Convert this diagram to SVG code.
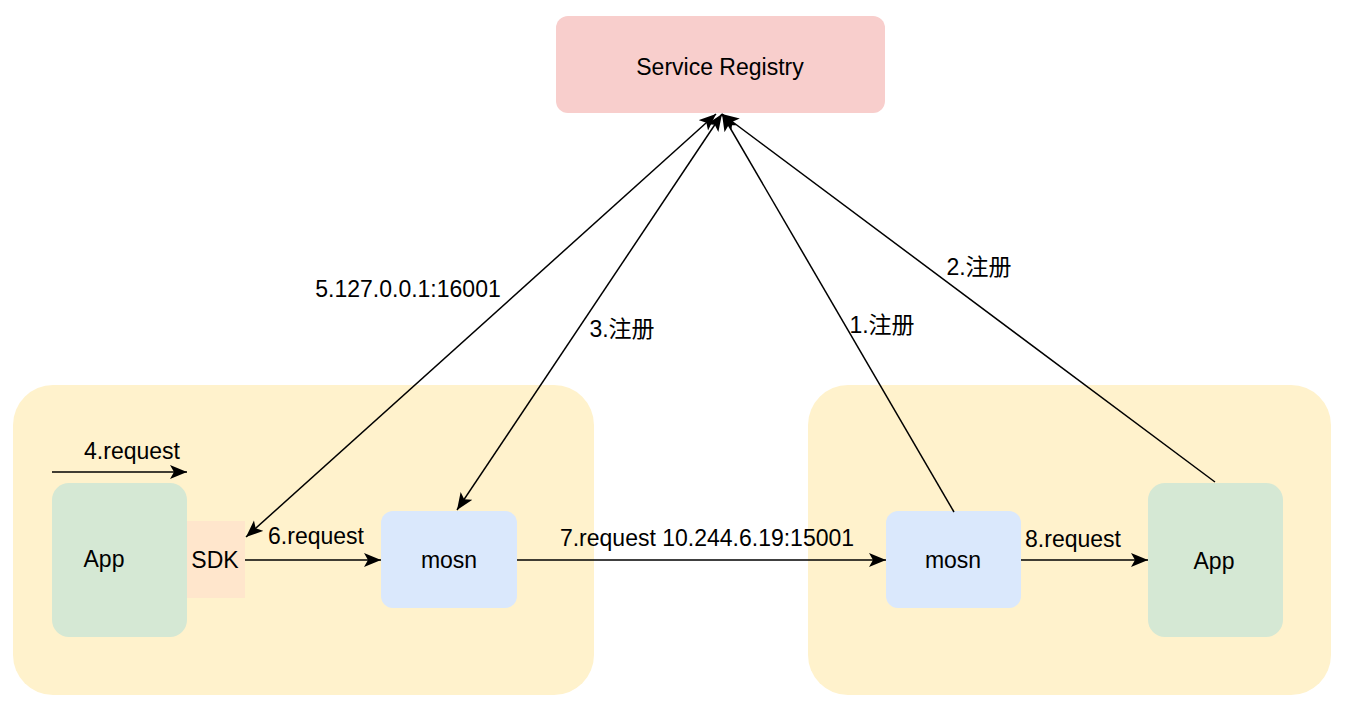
<svg xmlns="http://www.w3.org/2000/svg" width="1358" height="710" viewBox="0 0 1358 710">
<style>
text{font-family:"Liberation Sans",Arial,"Noto Sans CJK SC",sans-serif;font-size:23px;fill:#000;text-anchor:middle}
.cjk{font-family:"Liberation Sans",Arial,"Noto Sans CJK SC",sans-serif}
.ln{stroke:#000;stroke-width:1.5;fill:none}
</style>
<defs>
<marker id="ah" markerUnits="userSpaceOnUse" markerWidth="20" markerHeight="16" refX="17" refY="7" orient="auto-start-reverse" viewBox="0 0 20 16">
<path d="M0,0 L17,7 L0,14 L4,7 z" fill="#000"/>
</marker>
</defs>
<rect width="1358" height="710" fill="#fff"/>
<g id="host-left"><rect x="13" y="385" width="581" height="310" rx="40" fill="#fff2cc"/></g>
<g id="host-right"><rect x="808" y="385" width="523" height="310" rx="40" fill="#fff2cc"/></g>
<g id="registry"><rect x="556" y="16" width="329" height="97" rx="12" fill="#f8cecc"/><text x="720" y="75">Service Registry</text></g>
<g id="app-left"><rect x="52" y="483" width="135" height="154" rx="17" fill="#d5e8d4"/><text x="104" y="567">App</text></g>
<g id="sdk"><rect x="187" y="521" width="58" height="77" fill="#ffe6cc"/><text x="215" y="568">SDK</text></g>
<g id="mosn-left"><rect x="381" y="511" width="136" height="97" rx="12" fill="#dae8fc"/><text x="449" y="568">mosn</text></g>
<g id="mosn-right"><rect x="886" y="511" width="135" height="97" rx="12" fill="#dae8fc"/><text x="953" y="568">mosn</text></g>
<g id="app-right"><rect x="1148" y="483" width="135" height="154" rx="17" fill="#d5e8d4"/><text x="1214" y="569">App</text></g>
<g id="connectors">
<line class="ln" x1="52" y1="472" x2="187" y2="472" marker-end="url(#ah)"/>
<line class="ln" x1="245" y1="560" x2="381" y2="560" marker-end="url(#ah)"/>
<line class="ln" x1="517" y1="560" x2="886" y2="560" marker-end="url(#ah)"/>
<line class="ln" x1="1021" y1="560" x2="1148" y2="560" marker-end="url(#ah)"/>
<line class="ln" x1="246" y1="537" x2="716" y2="114" marker-start="url(#ah)" marker-end="url(#ah)"/>
<line class="ln" x1="457" y1="510" x2="722" y2="114" marker-start="url(#ah)" marker-end="url(#ah)"/>
<line class="ln" x1="954" y1="512" x2="722" y2="114" marker-end="url(#ah)"/>
<line class="ln" x1="1215" y1="482" x2="722" y2="114" marker-end="url(#ah)"/>
<text x="132" y="459">4.request</text>
<text x="316" y="544">6.request</text>
<text x="707" y="546">7.request 10.244.6.19:15001</text>
<text x="1073" y="547">8.request</text>
<text x="408" y="297">5.127.0.0.1:16001</text>
<text class="cjk" x="622" y="337">3.注册</text>
<text class="cjk" x="882" y="333">1.注册</text>
<text class="cjk" x="979" y="275">2.注册</text>
</g>
</svg>
